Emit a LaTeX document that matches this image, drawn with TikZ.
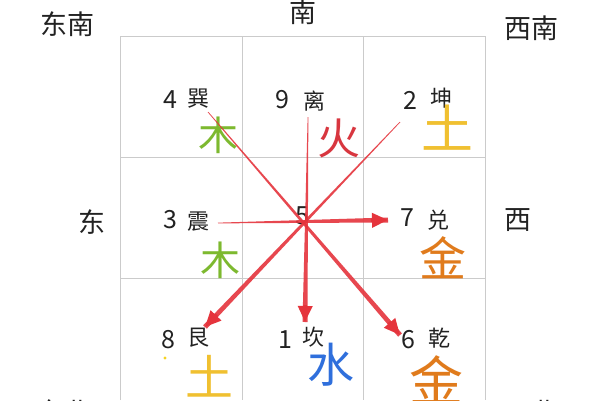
\documentclass[tikz,border=0pt]{standalone}
\usepackage{fontspec}
\setmainfont{Noto Sans CJK SC}
\usetikzlibrary{calc,arrows.meta}
\definecolor{gridc}{HTML}{CBCBCB}
\definecolor{redc}{HTML}{E5343C}
\definecolor{woodc}{HTML}{7DB92F}
\definecolor{firec}{HTML}{D8363F}
\definecolor{earthc}{HTML}{F0C030}
\definecolor{metalc}{HTML}{E07B1C}
\definecolor{waterc}{HTML}{2F6FDC}
\definecolor{textc}{HTML}{222222}
\tikzset{
  dirlabel/.style={inner sep=0pt, text=textc, font=\fontsize{27}{30}\selectfont},
  numlabel/.style={inner sep=0pt, text=textc, font=\fontsize{25}{28}\selectfont},
  trilabel/.style={inner sep=0pt, text=textc, font=\fontsize{22}{24}\selectfont},
  elem/.style={inner sep=0pt, font=\fontsize{#1}{#1}\selectfont},
  gridline/.style={draw=gridc, line width=0.9pt},
  arrowhd/.style={line width=3.5pt, redc, -{Triangle[length=16pt,width=14pt]}}
}
\newcommand\taperline[2]{%
  \fill[redc, opacity=0.9] ($(#1)!0.35pt!90:(#2)$) -- ($(#2)!2.5pt!-90:(#1)$) -- ($(#2)!2.5pt!90:(#1)$) -- ($(#1)!0.35pt!-90:(#2)$) -- cycle;
  \draw[arrowhd] ($(#2)!17pt!(#1)$) -- (#2);
}
\begin{document}
\begin{tikzpicture}[x=1pt,y=-1pt]
\useasboundingbox (0,0) rectangle (600,400);
\fill[white] (0,0) rectangle (600,400);
% grid
\draw[gridline] (120,400) -- (120,36) -- (485,36) -- (485,400);
\draw[gridline] (242,36) -- (242,400);
\draw[gridline] (363,36) -- (363,400);
\draw[gridline] (120,157) -- (485,157);
\draw[gridline] (120,278) -- (485,278);
% directions
\node[dirlabel] (se) at (67,24) {东南};
\node[dirlabel] (s) at (303,12) {南};
\node[dirlabel] (sw) at (531,28) {西南};
\node[dirlabel] (e) at (92,222) {东};
\node[dirlabel] (w) at (518,220) {西};
\node[dirlabel] (ne) at (64,412) {东北};
\node[dirlabel] (nw) at (531,412) {西北};
% numbers and trigrams
\node[numlabel] (n4) at (170,100) {4};
\node[trilabel] (t4) at (198,99) {巽};
\node[numlabel] (n9) at (282,100) {9};
\node[trilabel] (t9) at (314,101) {离};
\node[numlabel] (n2) at (410,100) {2};
\node[trilabel] (t2) at (441,98) {坤};
\node[numlabel] (n3) at (170,220) {3};
\node[trilabel] (t3) at (198,222) {震};
\node[numlabel] (n5) at (302,216) {5};
\node[numlabel] (n7) at (407,218) {7};
\node[trilabel] (t7) at (438,220) {兑};
\node[numlabel] (n8) at (168,340) {8};
\node[trilabel] (t8) at (198,338) {艮};
\node[numlabel] (n1) at (285,340) {1};
\node[trilabel] (t1) at (313,337) {坎};
\node[numlabel] (n6) at (408,340) {6};
\node[trilabel] (t6) at (439,338) {乾};
% elements
\node[elem=40, text=woodc] (w1) at (218,135) {木};
\node[elem=43, text=firec] (f1) at (339,138) {火};
\node[elem=52, text=earthc] (e1) at (447,128) {土};
\node[elem=40, text=woodc] (w2) at (220,260) {木};
\node[elem=47, text=metalc] (m1) at (443,258) {金};
\node[elem=48, text=earthc] (e2) at (209,376) {土};
\node[elem=47, text=waterc] (wa) at (331,365) {水};
\node[elem=54, text=metalc] (m2) at (436,380) {金};
\fill[earthc!70!yellow] (165,358) circle (1.6);
% flight lines
\coordinate (a4) at (208,112);
\coordinate (a6) at (400,335);
\coordinate (a9) at (308,117);
\coordinate (a1) at (305,322);
\coordinate (a2) at (400,122);
\coordinate (a8) at (205,327);
\coordinate (a3) at (218,223);
\coordinate (a7) at (388,220);
\taperline{a4}{a6}
\taperline{a9}{a1}
\taperline{a2}{a8}
\taperline{a3}{a7}
\end{tikzpicture}
\end{document}
